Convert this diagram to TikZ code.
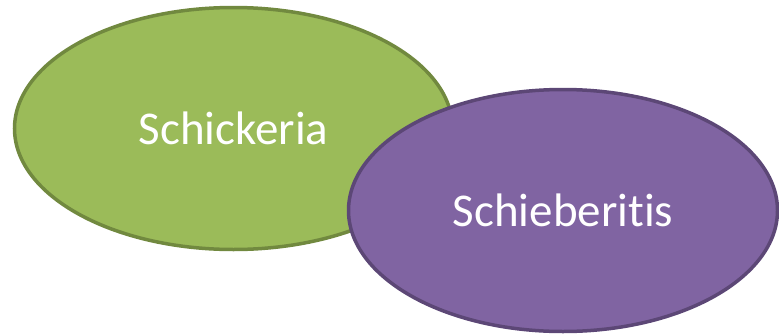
\documentclass[tikz,border=0pt]{standalone}
\usepackage{fontspec}
\setmainfont{Carlito}[Ligatures=NoCommon]
\usetikzlibrary{
    shapes.geometric
}
\definecolor{SetGreen}{RGB}{155,187,89}
\definecolor{SetGreenLine}{RGB}{113,137,63}
\definecolor{SetPurple}{RGB}{128,100,162}
\definecolor{SetPurpleLine}{RGB}{92,71,118}

\begin{document}
\begin{tikzpicture}[
    x=1pt,
    y=-1pt,
    blob/.style={
        ellipse,
        draw,
        line width=3.5pt,
        inner sep=0pt,
        text=white,
        font=\fontsize{47}{50}\selectfont
    }
]

\useasboundingbox (0,0) rectangle (779,335);

\node[
    blob,
    fill=SetGreen,
    draw=SetGreenLine,
    minimum width=438pt,
    minimum height=242pt
] (schickeria) at (233.5,128.5) {Schickeria};

\node[
    blob,
    fill=SetPurple,
    draw=SetPurpleLine,
    minimum width=429pt,
    minimum height=242pt
] (schieberitis) at (563,210.5) {Schieberitis};

\end{tikzpicture}
\end{document}
